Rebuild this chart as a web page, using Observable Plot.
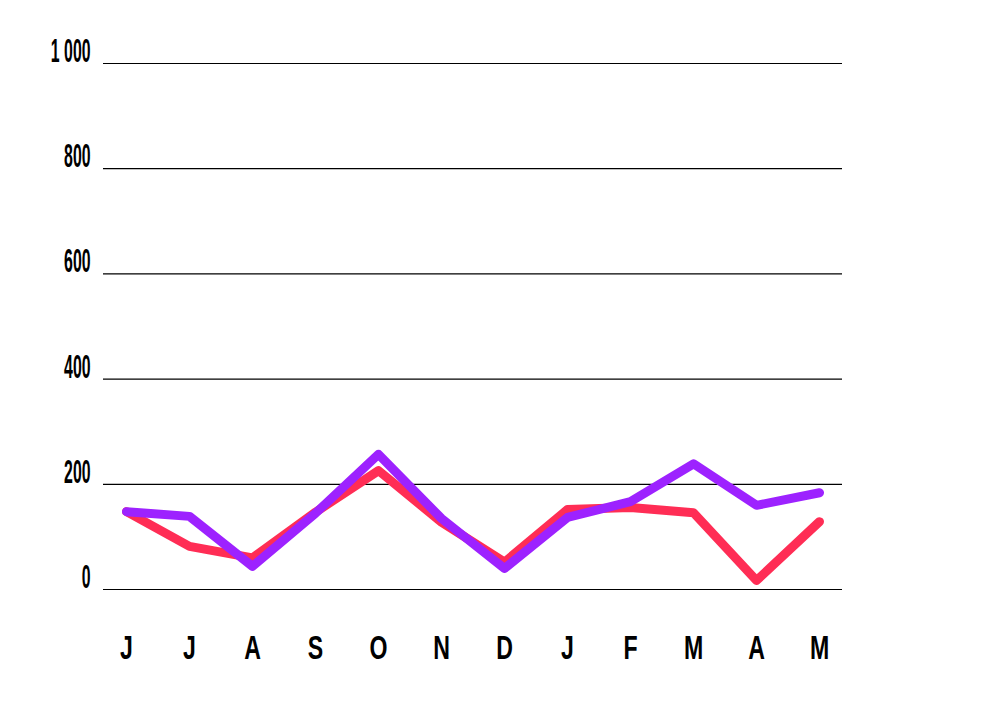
<!DOCTYPE html>
<html>
<head>
<meta charset="utf-8">
<script src="https://cdn.jsdelivr.net/npm/d3@7"></script>
<script src="https://cdn.jsdelivr.net/npm/@observablehq/plot@0.6"></script>
<style>
  html, body { margin: 0; padding: 0; background: #fff; }
  #chart { width: 1004px; height: 709px; }
</style>
</head>
<body>
<div id="chart"></div>
<script>
const months = ["J", "J", "A", "S", "O", "N", "D", "J", "F", "M", "A", "M"];
const redValues = [148, 82, 60, 147, 226, 128, 52, 152, 156, 146, 17, 129];
const purpleValues = [148, 139, 44, 145, 257, 135, 40, 137, 167, 239, 160, 184];
const yTicks = [0, 200, 400, 600, 800, 1000];
const yTickLabels = ["0", "200", "400", "600", "800", "1 000"];

const redData = months.map((m, i) => ({i, v: redValues[i]}));
const purpleData = months.map((m, i) => ({i, v: purpleValues[i]}));

const chart = Plot.plot({
  width: 1004,
  height: 709,
  marginLeft: 103,
  marginRight: 162,
  marginTop: 63,
  marginBottom: 120,
  style: {fontFamily: "'Liberation Sans', Arial, sans-serif", background: "#fff", color: "#000"},
  x: {type: "point", domain: d3.range(months.length), padding: 0.3},
  y: {domain: [0, 1000]},
  marks: [
    Plot.gridY(yTicks, {stroke: "#000", strokeOpacity: 1, strokeWidth: 1.2}),
    Plot.axisY(yTicks, {
      tickSize: 0, tickPadding: 13, dy: -12, fontSize: 33, fontWeight: "bold",
      tickFormat: (d) => yTickLabels[yTicks.indexOf(d)], label: null
    }),
    Plot.axisX({
      tickSize: 0, tickPadding: 46, fontSize: 33, fontWeight: "bold",
      tickFormat: (i) => months[i], label: null
    }),
    Plot.line(redData, {x: "i", y: "v", stroke: "#ff2d55", strokeWidth: 9, strokeLinecap: "round", strokeLinejoin: "round"}),
    Plot.line(purpleData, {x: "i", y: "v", stroke: "#9d22ff", strokeWidth: 9, strokeLinecap: "round", strokeLinejoin: "round"})
  ]
});
document.getElementById("chart").appendChild(chart);

function condense(selector, factor) {
  chart.querySelectorAll(selector + " text").forEach((t) => {
    const w = t.getComputedTextLength();
    t.setAttribute("textLength", (w * factor).toFixed(2));
    t.setAttribute("lengthAdjust", "spacingAndGlyphs");
  });
}
condense('g[aria-label="y-axis tick label"]', 0.48);
condense('g[aria-label="x-axis tick label"]', 0.7);
</script>
</body>
</html>
